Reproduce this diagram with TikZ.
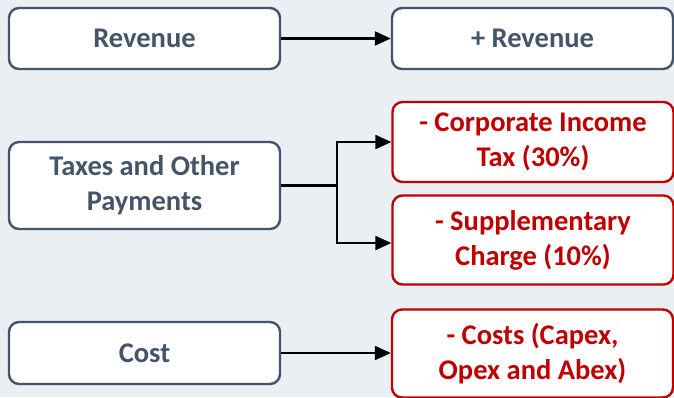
\documentclass[tikz,border=0pt]{standalone}
\usepackage{fontspec}
\setmainfont{Carlito}
\usetikzlibrary{arrows.meta}
\definecolor{bgc}{HTML}{E9EFF2}
\definecolor{slate}{HTML}{44546A}
\definecolor{redc}{HTML}{C00000}
\begin{document}
\begin{tikzpicture}[x=1pt,y=-1pt,
  box/.style={draw=slate, line width=2.4pt, rounded corners=10pt, fill=white,
    align=center, font=\fontsize{28.5}{35}\selectfont\bfseries, text=slate,
    inner sep=0pt, minimum width=271pt},
  redbox/.style={box, draw=redc, text=redc, minimum width=281pt},
  link/.style={line width=2.2pt},
  conn/.style={link, -{Triangle[length=16pt, width=14pt]}}
]
\fill[bgc] (0,0) rectangle (674,397);
\useasboundingbox (0,0) rectangle (674,397);

% left column
\node[box, minimum height=61pt] (rev) at (144.5,38.5) {Revenue};
\node[box, minimum height=87pt] (tax) at (144.5,185.5) {Taxes and Other\\Payments};
\node[box, minimum height=62pt] (cost) at (144.5,353) {Cost};

% right column
\node[box, minimum width=281pt, minimum height=61pt] (prev) at (532.5,38.5) {+ Revenue};
\node[redbox, minimum height=80pt] (cit) at (533,142) {- Corporate Income\\Tax (30\%)};
\node[redbox, minimum height=89pt] (sup) at (533,240) {- Supplementary\\Charge (10\%)};
\node[redbox, minimum height=88pt] (costs) at (532.5,353.5) {- Costs (Capex,\\Opex and Abex)};

% connectors
\coordinate (split) at (337,185.5);
\draw[conn] (rev) -- (prev);
\draw[link] (tax.east) -- (split);
\draw[conn] (split) |- (cit.west);
\draw[conn] (split) |- ([yshift=-3pt]sup.west);
\draw[conn] (cost) -- (cost -| costs.west);
\end{tikzpicture}
\end{document}
